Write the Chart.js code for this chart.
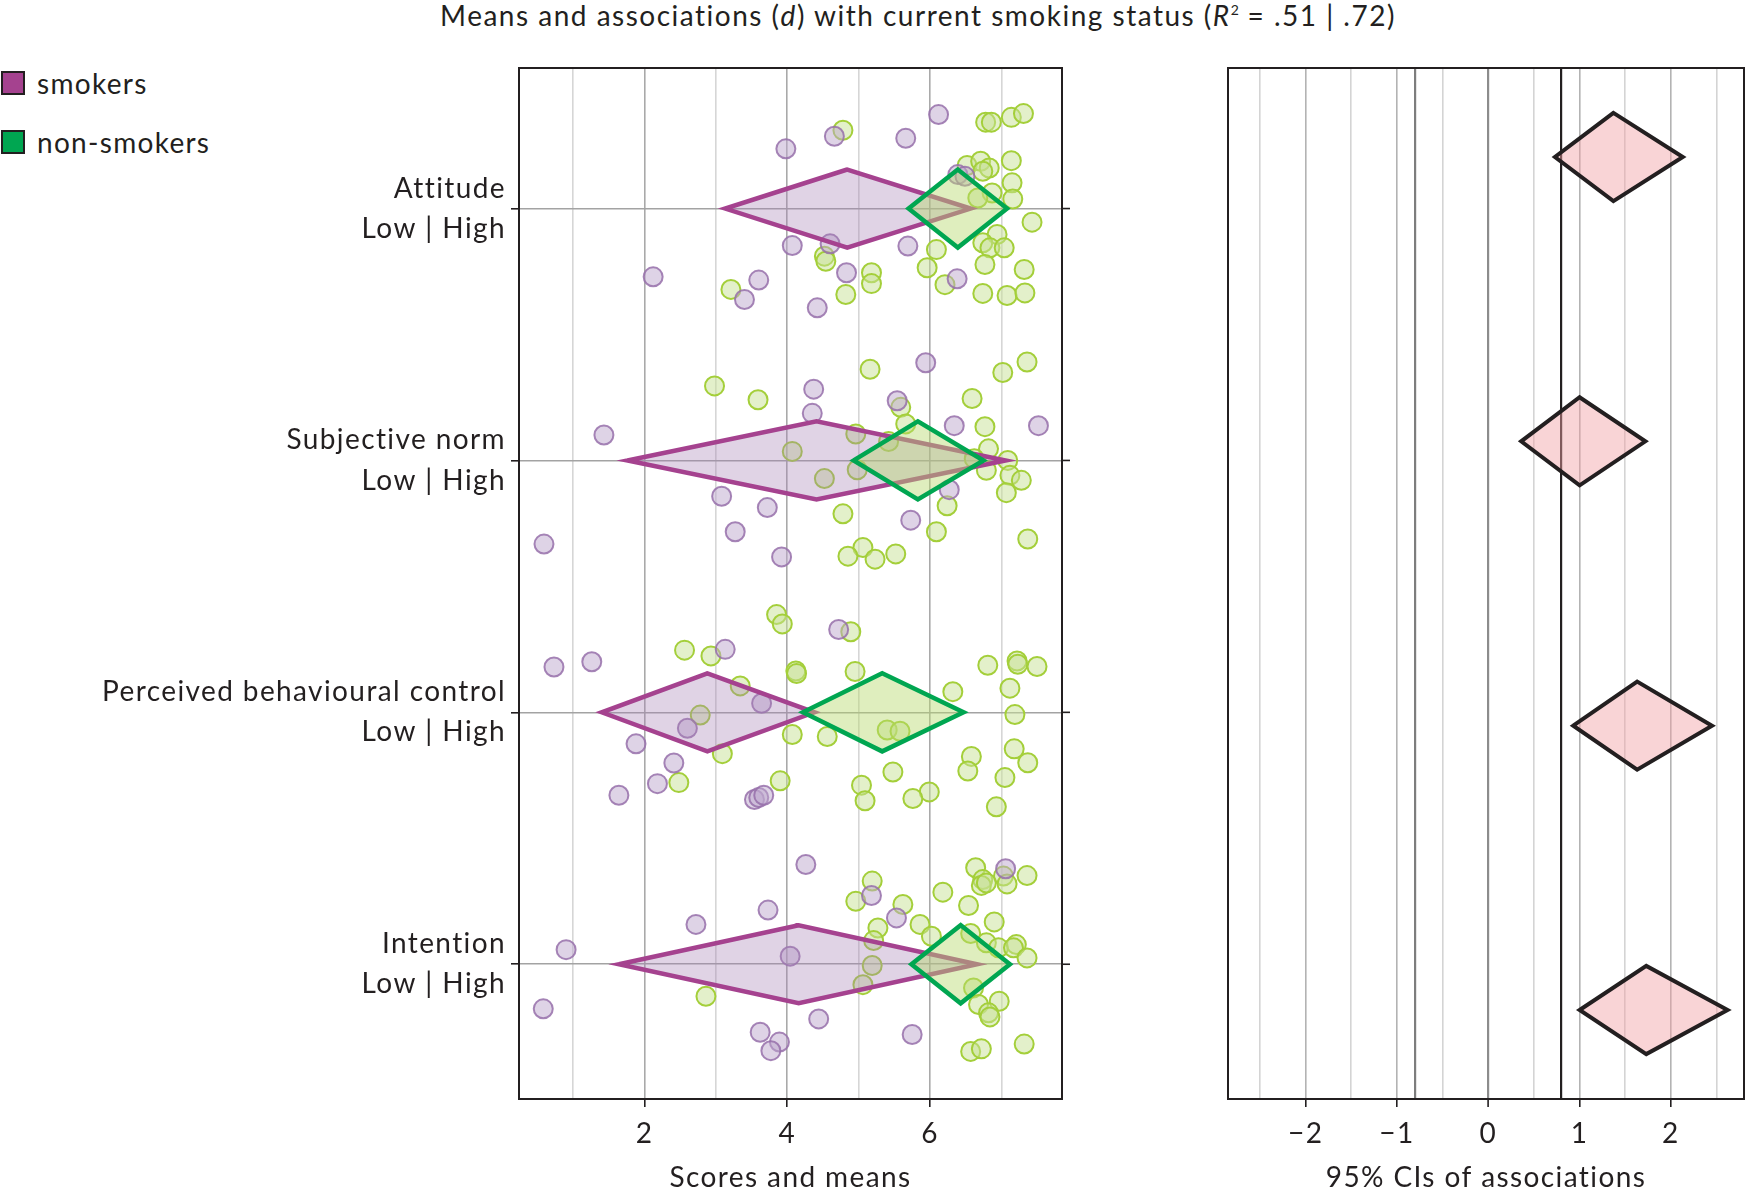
<!DOCTYPE html>
<html>
<head>
<meta charset="utf-8">
<script src="https://cdn.jsdelivr.net/npm/chart.js@4.4.1/dist/chart.umd.min.js"></script>
<style>
  body { margin: 0; background: #fff; font-family: Lato, "Noto Sans", sans-serif; color: #231f20; }
  #wrap { position: relative; width: 1747px; height: 1189px; overflow: hidden; }
  #titulo { position: absolute; top: -2px; left: 918px; transform: translateX(-50%); white-space: nowrap; font-size: 28px; letter-spacing: 1.5px; line-height: 34px; }
  #titulo sup { font-size: 14px; vertical-align: 11px; line-height: 0; letter-spacing: 0; }
  .leg { position: absolute; left: 1px; font-size: 28px; letter-spacing: 1.3px; line-height: 28px; height: 28px; display: flex; align-items: center; }
  .sq { display: inline-block; width: 20px; height: 20px; border: 2px solid #231f20; margin-right: 12px; }
  #left { position: absolute; left: 0; top: 0; }
  #right { position: absolute; left: 1110px; top: 0; }
</style>
</head>
<body>
<div id="wrap">
  <div id="titulo">Means and associations (<i>d</i>) with current smoking status (<i>R</i><sup>2</sup> = .51 | .72)</div>
  <div class="leg" style="top:69px"><span class="sq" style="background:#a5428f"></span>smokers</div>
  <div class="leg" style="top:128px"><span class="sq" style="background:#00a651"></span>non-smokers</div>
  <canvas id="left" width="1100" height="1200"></canvas>
  <canvas id="right" width="637" height="1200"></canvas>
</div>
<script>
// Categorias (de cima para baixo) e rótulos
const categorias = ["Attitude", "Subjective norm", "Perceived behavioural control", "Intention"];
const subRotulo = "Low | High";

// Médias e intervalos (escala de escores)
const smokerMean = [4.84, 4.41, 2.88, 4.16];
const smokerLow = [3.13, 1.76, 1.40, 1.64];
const smokerHigh = [6.57, 7.06, 4.38, 6.66];
const nonSmokerMean = [6.39, 5.83, 5.33, 6.43];
const nonSmokerLow = [5.70, 4.93, 4.22, 5.74];
const nonSmokerHigh = [7.08, 6.75, 6.47, 7.12];

// Associações (d) com IC de 95%
const assocD = [1.37, 1.00, 1.63, 1.73];
const assocLow = [0.73, 0.36, 0.93, 1.00];
const assocHigh = [2.13, 1.72, 2.45, 2.62];

// Escores individuais [escore, posição vertical]
const attitudeSmokers = [[6.12,4.373],[4.66,4.287],[5.66,4.279],[3.98,4.237],[6.39,4.135],[6.49,4.128],[4.07,3.853],[4.60,3.860],[5.69,3.851],[2.12,3.729],[3.60,3.716],[4.83,3.745],[6.38,3.721],[3.40,3.639],[4.42,3.606]];
const attitudeNonSmokers = [[4.78,4.311],[6.78,4.343],[6.86,4.343],[7.14,4.362],[7.31,4.377],[6.52,4.171],[6.71,4.188],[6.83,4.161],[7.14,4.190],[6.74,4.148],[7.15,4.102],[6.87,4.062],[6.67,4.042],[7.16,4.038],[7.43,3.946],[6.94,3.897],[6.74,3.864],[6.84,3.844],[7.04,3.844],[6.09,3.837],[4.52,3.811],[4.54,3.791],[5.96,3.765],[6.77,3.778],[7.32,3.758],[5.18,3.745],[5.18,3.702],[3.21,3.679],[4.82,3.659],[6.21,3.698],[6.74,3.663],[7.08,3.655],[7.33,3.665]];
const subjectiveSmokers = [[5.94,3.388],[4.37,3.283],[5.54,3.237],[4.35,3.187],[1.43,3.101],[6.34,3.138],[7.52,3.138],[3.08,2.858],[3.72,2.813],[6.27,2.884],[5.73,2.763],[3.27,2.717],[0.59,2.668],[3.92,2.617]];
const subjectiveNonSmokers = [[5.16,3.362],[7.36,3.391],[7.02,3.349],[2.98,3.296],[3.59,3.241],[6.59,3.246],[6.77,3.134],[5.59,3.211],[5.66,3.145],[4.96,3.105],[5.42,3.075],[4.07,3.036],[6.82,3.046],[6.62,3.007],[7.09,3.0],[6.79,2.961],[7.12,2.941],[7.28,2.921],[7.07,2.872],[4.98,2.963],[4.52,2.928],[6.24,2.820],[4.78,2.788],[6.09,2.717],[7.37,2.688],[5.06,2.654],[4.85,2.620],[5.23,2.608],[5.52,2.629]];
const pbcSmokers = [[0.73,2.180],[1.26,2.201],[3.13,2.250],[4.72,2.329],[3.64,2.036],[2.60,1.937],[1.88,1.875],[2.41,1.799],[2.18,1.717],[1.64,1.671],[3.54,1.654],[3.60,1.662],[3.67,1.671]];
const pbcNonSmokers = [[3.85,2.388],[3.93,2.351],[4.89,2.320],[2.56,2.247],[2.93,2.224],[4.12,2.164],[4.13,2.154],[4.95,2.162],[3.34,2.105],[2.78,1.989],[6.81,2.187],[7.22,2.204],[7.23,2.191],[7.50,2.182],[7.12,2.096],[6.32,2.082],[7.19,1.991],[5.40,1.930],[5.58,1.925],[4.07,1.912],[4.56,1.904],[3.09,1.836],[7.18,1.855],[6.58,1.825],[7.37,1.800],[6.53,1.767],[5.48,1.763],[7.05,1.741],[3.90,1.728],[2.48,1.721],[5.04,1.711],[5.99,1.684],[5.09,1.649],[5.76,1.658],[6.93,1.625]];
const intentionSmokers = [[4.26,1.396],[7.06,1.379],[5.18,1.273],[3.73,1.215],[2.72,1.158],[5.53,1.184],[0.90,1.058],[4.04,1.032],[0.58,0.823],[4.44,0.783],[5.75,0.721],[3.62,0.730],[3.89,0.691],[3.77,0.657]];
const intentionNonSmokers = [[6.64,1.383],[7.03,1.350],[7.08,1.319],[7.36,1.352],[5.19,1.330],[6.74,1.336],[6.72,1.313],[6.79,1.323],[6.18,1.286],[4.96,1.250],[5.62,1.237],[6.54,1.233],[6.90,1.168],[5.86,1.158],[5.27,1.144],[6.02,1.111],[6.57,1.122],[5.21,1.094],[6.79,1.085],[6.96,1.065],[7.21,1.078],[7.17,1.065],[7.36,1.025],[5.19,0.995],[5.06,0.919],[2.86,0.873],[6.61,0.906],[6.97,0.853],[6.68,0.840],[6.82,0.807],[6.84,0.791],[7.32,0.683],[6.57,0.654],[6.72,0.664]];

// Marcas dos eixos
const scoreTicks = [1, 2, 3, 4, 5, 6, 7];
const scoreLabels = [2, 4, 6];
const assocTicks = [-2.5, -2, -1.5, -1, -0.8, -0.5, 0, 0.5, 0.8, 1, 1.5, 2, 2.5];
const assocLabels = [-2, -1, 0, 1, 2];

const fonte = "Lato, 'Noto Sans', sans-serif";
const tinta = "#231f20";
const meiaAltura = 0.155; // meia altura dos losangos

function losango(lo, mid, hi, yc) {
    return [
        { x: lo, y: yc }, { x: mid, y: yc + meiaAltura }, { x: hi, y: yc },
        { x: mid, y: yc - meiaAltura }, { x: lo, y: yc }, { x: mid, y: yc + meiaAltura }
    ];
}

function pontos(lista) {
    return lista.map(p => ({ x: p[0], y: p[1] }));
}

function menos(v) {
    return v < 0 ? "\u2212" + Math.abs(v) : String(v);
}

// Espaçamento entre letras do texto no canvas
const espacamento = {
    id: "espacamento",
    beforeDraw(chart) {
        chart.ctx.letterSpacing = "1.4px";
    }
};

// Moldura em volta da área do gráfico (e marcas do lado direito)
const moldura = {
    id: "moldura",
    afterDraw(chart, args, opts) {
        const { ctx, chartArea: a } = chart;
        ctx.save();
        ctx.strokeStyle = tinta;
        ctx.lineWidth = 2;
        ctx.strokeRect(a.left, a.top, a.right - a.left, a.bottom - a.top);
        if (opts.marcasDireita) {
            const y = chart.scales.y;
            ctx.lineWidth = 1.6;
            categorias.forEach((c, i) => {
                const py = y.getPixelForValue(categorias.length - i);
                ctx.beginPath();
                ctx.moveTo(a.right, py);
                ctx.lineTo(a.right + 8, py);
                ctx.stroke();
            });
        }
        ctx.restore();
    }
};

/* Painel esquerdo: escores e médias */
const fumantes = [attitudeSmokers, subjectiveSmokers, pbcSmokers, intentionSmokers];
const naoFumantes = [attitudeNonSmokers, subjectiveNonSmokers, pbcNonSmokers, intentionNonSmokers];

const dsLeft = [];
categorias.forEach((c, i) => {
    dsLeft.push({
        type: "line",
        data: losango(nonSmokerLow[i], nonSmokerMean[i], nonSmokerHigh[i], categorias.length - i),
        borderColor: "#00a651",
        backgroundColor: "rgba(185,218,110,0.45)",
        borderWidth: 4.5,
        borderJoinStyle: "miter",
        fill: "shape",
        pointRadius: 0,
        tension: 0
    });
});
categorias.forEach((c, i) => {
    dsLeft.push({
        type: "line",
        data: losango(smokerLow[i], smokerMean[i], smokerHigh[i], categorias.length - i),
        borderColor: "#a5428f",
        backgroundColor: "rgba(165,130,180,0.35)",
        borderWidth: 4.5,
        borderJoinStyle: "miter",
        fill: "shape",
        pointRadius: 0,
        tension: 0
    });
});
dsLeft.push({
    data: pontos([].concat(...fumantes)),
    backgroundColor: "rgba(190,168,206,0.5)",
    borderColor: "rgba(150,112,170,0.85)",
    borderWidth: 2,
    pointRadius: 9.5
});
dsLeft.push({
    data: pontos([].concat(...naoFumantes)),
    backgroundColor: "rgba(200,226,150,0.5)",
    borderColor: "#a4cf3a",
    borderWidth: 2,
    pointRadius: 9.5
});

new Chart(document.getElementById("left"), {
    type: "scatter",
    data: { datasets: dsLeft },
    options: {
        responsive: false,
        animation: false,
        layout: { padding: { top: 68, right: 38, left: 0, bottom: 0 } },
        plugins: {
            legend: { display: false },
            tooltip: { enabled: false },
            moldura: { marcasDireita: true }
        },
        scales: {
            x: {
                type: "linear",
                min: 0.24,
                max: 7.85,
                afterBuildTicks: s => { s.ticks = scoreTicks.map(v => ({ value: v })); },
                afterFit: s => { s.height = 101; },
                border: { display: false },
                grid: {
                    color: c => (c.tick && scoreLabels.includes(c.tick.value) ? "#a9a9a9" : "#d6d6d6"),
                    lineWidth: 1.6,
                    tickLength: 8,
                    tickWidth: 1.6,
                    tickColor: c => (c.tick && scoreLabels.includes(c.tick.value) ? tinta : "rgba(0,0,0,0)")
                },
                ticks: {
                    autoSkip: false,
                    maxRotation: 0,
                    padding: 10,
                    color: tinta,
                    font: { family: fonte, size: 28 },
                    callback: v => (scoreLabels.includes(v) ? String(v) : "")
                },
                title: {
                    display: true,
                    text: "Scores and means",
                    color: tinta,
                    font: { family: fonte, size: 28, lineHeight: 1 },
                    padding: { top: 0, bottom: 8 }
                }
            },
            y: {
                min: 0.465,
                max: 4.558,
                afterBuildTicks: s => { s.ticks = categorias.map((c, i) => ({ value: categorias.length - i })); },
                afterFit: s => { s.width = 519; },
                border: { display: false },
                grid: { color: "#a3a3a3", lineWidth: 1.6, tickLength: 8, tickWidth: 1.6, tickColor: tinta },
                ticks: {
                    autoSkip: false,
                    padding: 5,
                    color: tinta,
                    font: { family: fonte, size: 28, lineHeight: 1.43 },
                    callback: v => [categorias[categorias.length - v], subRotulo]
                }
            }
        }
    },
    plugins: [espacamento, moldura]
});

/* Painel direito: ICs de 95% das associações */
const dsRight = categorias.map((c, i) => ({
    type: "line",
    data: losango(assocLow[i], assocD[i], assocHigh[i], categorias.length - i),
    borderColor: tinta,
    backgroundColor: "rgba(242,160,165,0.45)",
    borderWidth: 4,
    borderJoinStyle: "miter",
    fill: "shape",
    pointRadius: 0,
    tension: 0
}));

function corGrade(v) {
    if (v === 0.8) return tinta;
    if (v === -0.8) return "#7d7d7d";
    if (v === 0) return "#8c8c8c";
    return Number.isInteger(v) ? "#b3b3b3" : "#d4d4d4";
}

new Chart(document.getElementById("right"), {
    type: "scatter",
    data: { datasets: dsRight },
    options: {
        responsive: false,
        animation: false,
        layout: { padding: { top: 68, right: 3, left: 118, bottom: 0 } },
        plugins: {
            legend: { display: false },
            tooltip: { enabled: false },
            moldura: { marcasDireita: false }
        },
        scales: {
            x: {
                type: "linear",
                min: -2.85,
                max: 2.8,
                afterBuildTicks: s => { s.ticks = assocTicks.map(v => ({ value: v })); },
                afterFit: s => { s.height = 101; },
                border: { display: false },
                grid: {
                    color: c => corGrade(c.tick ? c.tick.value : 1),
                    lineWidth: c => (c.tick && (c.tick.value === 0 || Math.abs(c.tick.value) === 0.8) ? 2.2 : 1.6),
                    tickLength: 8,
                    tickWidth: 1.6,
                    tickColor: c => (c.tick && assocLabels.includes(c.tick.value) ? tinta : "rgba(0,0,0,0)")
                },
                ticks: {
                    autoSkip: false,
                    maxRotation: 0,
                    padding: 10,
                    color: tinta,
                    font: { family: fonte, size: 28 },
                    callback: v => (assocLabels.includes(v) ? menos(v) : "")
                },
                title: {
                    display: true,
                    text: "95% CIs of associations",
                    color: tinta,
                    font: { family: fonte, size: 28, lineHeight: 1 },
                    padding: { top: 0, bottom: 8 }
                }
            },
            y: { display: false, min: 0.687, max: 4.313 }
        }
    },
    plugins: [espacamento, moldura]
});
</script>
</body>
</html>
